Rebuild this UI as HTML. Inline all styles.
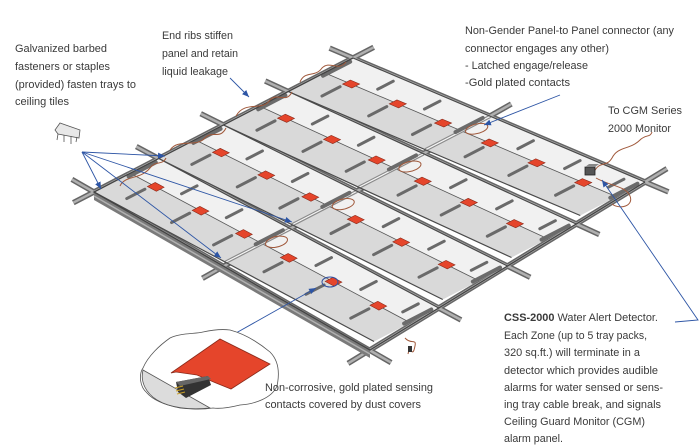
<!DOCTYPE html>
<html><head><meta charset="utf-8"><style>
html,body{margin:0;padding:0;background:#fff;}
svg{display:block;}
text{font-family:"Liberation Sans",Arial,sans-serif;font-size:11px;fill:#3a3a3a;}
</style></head><body>
<svg width="700" height="445" viewBox="0 0 700 445" xmlns="http://www.w3.org/2000/svg">
<defs>
<marker id="ah" markerWidth="8" markerHeight="8" refX="7" refY="4" orient="auto" markerUnits="userSpaceOnUse">
<path d="M0,1 L7,4 L0,7 z" fill="#2d55a5"/></marker>
<g id="strip">
<rect x="0" y="0" width="1000" height="44" fill="#f1f1f1"/>
<rect x="0" y="44" width="1000" height="56" fill="#d9d9d9"/>
<g stroke="#6a6a6a" stroke-width="3" stroke-linecap="round">
<line x1="160" y1="10" x2="160" y2="34" vector-effect="non-scaling-stroke"/>
<line x1="320" y1="10" x2="320" y2="34" vector-effect="non-scaling-stroke"/>
<line x1="640" y1="10" x2="640" y2="34" vector-effect="non-scaling-stroke"/>
<line x1="800" y1="10" x2="800" y2="34" vector-effect="non-scaling-stroke"/>
<line x1="950" y1="10" x2="950" y2="34" vector-effect="non-scaling-stroke"/>
<line x1="80" y1="56" x2="80" y2="84" vector-effect="non-scaling-stroke"/>
<line x1="240" y1="56" x2="240" y2="84" vector-effect="non-scaling-stroke"/>
<line x1="390" y1="56" x2="390" y2="84" vector-effect="non-scaling-stroke"/>
<line x1="570" y1="56" x2="570" y2="84" vector-effect="non-scaling-stroke"/>
<line x1="720" y1="56" x2="720" y2="84" vector-effect="non-scaling-stroke"/>
<line x1="880" y1="56" x2="880" y2="84" vector-effect="non-scaling-stroke"/>
</g>
<line x1="0" y1="44" x2="1000" y2="44" stroke="#555" stroke-width="0.8" vector-effect="non-scaling-stroke"/>
<g fill="#e5452b" stroke="#8a2a1a" stroke-width="0.6">
<rect x="75" y="38" width="32" height="12" vector-effect="non-scaling-stroke"/>
<rect x="235" y="38" width="32" height="12" vector-effect="non-scaling-stroke"/>
<rect x="390" y="38" width="32" height="12" vector-effect="non-scaling-stroke"/>
<rect x="550" y="38" width="32" height="12" vector-effect="non-scaling-stroke"/>
<rect x="710" y="38" width="32" height="12" vector-effect="non-scaling-stroke"/>
<rect x="870" y="38" width="32" height="12" vector-effect="non-scaling-stroke"/>
</g>
<line x1="470" y1="0" x2="470" y2="100" stroke="#8a8a8a" stroke-width="3.5" vector-effect="non-scaling-stroke"/>
<line x1="470" y1="0" x2="470" y2="100" stroke="#f6f6f6" stroke-width="1.2" vector-effect="non-scaling-stroke"/>
<g stroke="#6b6b6b" stroke-width="4" stroke-linecap="round">
<line x1="462" y1="8" x2="462" y2="50" vector-effect="non-scaling-stroke"/>
<line x1="8" y1="8" x2="8" y2="50" vector-effect="non-scaling-stroke"/>
<line x1="992" y1="8" x2="992" y2="50" vector-effect="non-scaling-stroke"/>
</g>
<ellipse cx="490" cy="30" rx="22" ry="14" fill="none" stroke="#a0583a" stroke-width="1" vector-effect="non-scaling-stroke"/>
<line x1="0" y1="0" x2="1000" y2="0" stroke="#4a4a4a" stroke-width="1.2" vector-effect="non-scaling-stroke"/>
<line x1="0" y1="100" x2="1000" y2="100" stroke="#4a4a4a" stroke-width="1.2" vector-effect="non-scaling-stroke"/>
</g>
</defs>

<g stroke-linecap="butt">
<g stroke="#666" stroke-width="5.5">
<line x1="329.6" y1="48.1" x2="668.4" y2="191.9"/>
<line x1="265.2" y1="81" x2="599.3" y2="234.5"/>
<line x1="200.7" y1="113.7" x2="530.2" y2="277.3"/>
<line x1="136.3" y1="146.6" x2="461" y2="319.9"/>
<line x1="71.9" y1="179.4" x2="391.1" y2="362.6"/>
<line x1="373.7" y1="47.3" x2="73.3" y2="202.7"/>
<line x1="511.3" y1="104" x2="202.4" y2="278.3"/>
<line x1="667" y1="168.6" x2="348" y2="363.4"/>
</g>
<g stroke="#b0b0b0" stroke-width="2.5">
<line x1="329.6" y1="48.1" x2="668.4" y2="191.9"/>
<line x1="265.2" y1="81" x2="599.3" y2="234.5"/>
<line x1="200.7" y1="113.7" x2="530.2" y2="277.3"/>
<line x1="136.3" y1="146.6" x2="461" y2="319.9"/>
<line x1="71.9" y1="179.4" x2="391.1" y2="362.6"/>
<line x1="373.7" y1="47.3" x2="73.3" y2="202.7"/>
<line x1="511.3" y1="104" x2="202.4" y2="278.3"/>
<line x1="667" y1="168.6" x2="348" y2="363.4"/>
</g>
</g>

<polygon points="94,192 370,350 370,358 94,200" fill="#7a7a7a"/>
<line x1="94" y1="196" x2="370" y2="354" stroke="#b0b0b0" stroke-width="1.5"/>

<use href="#strip" transform="matrix(.292,.124,-.6475,.335,353,58)"/>
<use href="#strip" transform="matrix(.288,.1325,-.6475,.335,288.25,91.5)"/>
<use href="#strip" transform="matrix(.284,.141,-.6475,.335,223.5,125)"/>
<use href="#strip" transform="matrix(.280,.1495,-.6475,.335,158.75,158.5)"/>

<polyline points="353,58 94,192 370,350 645,182" fill="none" stroke="#444" stroke-width="1.3"/>

<g fill="none" stroke="#a0583a" stroke-width="1">
<path d="M300,82 C305,70 315,78 322,68 C330,60 338,72 346,62"/>
<path d="M236,116 C245,100 262,112 270,100 C278,92 286,104 292,92"/>
<path d="M170,150 C178,138 196,148 205,138 C212,130 220,140 226,128"/>
<path d="M120,186 C125,175 140,180 150,168 C156,160 162,166 166,158"/>
<path d="M405,338 C412,346 418,336 414,350 C412,356 410,345 408,354"/>
</g>
<path d="M594,172 C600,160 606,168 612,158 C618,146 630,150 640,140 C646,134 650,138 652,132" fill="none" stroke="#a0583a" stroke-width="1"/>
<path d="M596,178 C610,186 626,186 630,196 C634,206 620,210 612,204" fill="none" stroke="#a0583a" stroke-width="1"/>
<rect x="585" y="167" width="10" height="8" fill="#555" stroke="#222" stroke-width="0.8"/>
<polygon points="585,167 589,164 599,164 595,167" fill="#888"/>
<rect x="408" y="346" width="4" height="6" fill="#333"/>

<ellipse cx="330" cy="282" rx="8" ry="5" fill="none" stroke="#3050a0" stroke-width="1"/>

<g stroke="#2d55a5" stroke-width="0.9" fill="none">
<line x1="82" y1="152" x2="165" y2="156" marker-end="url(#ah)"/>
<line x1="82" y1="152" x2="101" y2="189" marker-end="url(#ah)"/>
<line x1="82" y1="152" x2="292" y2="222" marker-end="url(#ah)"/>
<line x1="82" y1="152" x2="221" y2="258" marker-end="url(#ah)"/>
<line x1="230" y1="78" x2="249" y2="97" marker-end="url(#ah)"/>
<line x1="560" y1="95" x2="484" y2="125" marker-end="url(#ah)"/>
<polyline points="675,322 698,320 602,180" marker-end="url(#ah)"/>
<line x1="236" y1="333" x2="316" y2="288" marker-end="url(#ah)"/>
</g>

<g stroke="#555" stroke-width="0.8" fill="#e8e8e8">
<polygon points="55,130 60,123 80,130 79,138 58,134"/>
<path d="M58,134 L57,140 M64,135 L64,142 M71,136 L71,144 M77,137 L76,142" fill="none"/>
</g>

<path d="M147,393 C138,385 140,372 143,368 C148,356 160,345 170,338 C180,333 195,334 203,332 C212,330 222,329 230,330 C245,334 258,342 270,352 C278,360 280,372 277,386 C272,398 255,404 240,405 C228,408 220,409 213,408 C200,410 190,409 180,408 C165,405 153,400 147,393 z" fill="#fff" stroke="#555" stroke-width="0.8"/>
<path d="M143,370 L210,408 C190,410 170,408 157,400 C146,393 140,382 143,370 z" fill="#dcdcdc" stroke="#555" stroke-width="0.8"/>
<polygon points="171,373 220,339 270,364 231,389 216,383 197,375 176,372" fill="#e5452b" stroke="#8a2a1a" stroke-width="0.8"/>
<polygon points="176,382 208,376 211,385 186,398 178,392" fill="#333"/>
<polygon points="176,382 208,376 211,379 180,386" fill="#666"/>
<g stroke="#c9a02a" stroke-width="1"><line x1="175" y1="388" x2="183" y2="386"/><line x1="176" y1="391" x2="184" y2="389"/><line x1="177" y1="394" x2="185" y2="392"/></g>

<text x="15" y="52" textLength="92" lengthAdjust="spacingAndGlyphs">Galvanized barbed</text>
<text x="15" y="70" textLength="95" lengthAdjust="spacingAndGlyphs">fasteners or staples</text>
<text x="15" y="88" textLength="121" lengthAdjust="spacingAndGlyphs">(provided) fasten trays to</text>
<text x="15" y="105" textLength="54" lengthAdjust="spacingAndGlyphs">ceiling tiles</text>

<text x="162" y="39" textLength="71" lengthAdjust="spacingAndGlyphs">End ribs stiffen</text>
<text x="162" y="57" textLength="76" lengthAdjust="spacingAndGlyphs">panel and retain</text>
<text x="162" y="75" textLength="66" lengthAdjust="spacingAndGlyphs">liquid leakage</text>

<text x="465" y="34" textLength="209" lengthAdjust="spacingAndGlyphs">Non-Gender Panel-to Panel connector (any</text>
<text x="465" y="52" textLength="144" lengthAdjust="spacingAndGlyphs">connector engages any other)</text>
<text x="465" y="69" textLength="123" lengthAdjust="spacingAndGlyphs">- Latched engage/release</text>
<text x="465" y="86" textLength="105" lengthAdjust="spacingAndGlyphs">-Gold plated contacts</text>

<text x="608" y="114" textLength="74" lengthAdjust="spacingAndGlyphs">To CGM Series</text>
<text x="608" y="132" textLength="63" lengthAdjust="spacingAndGlyphs">2000 Monitor</text>

<text x="504" y="321" textLength="154" lengthAdjust="spacingAndGlyphs"><tspan font-weight="bold">CSS-2000</tspan> Water Alert Detector.</text>
<text x="504" y="339" textLength="143" lengthAdjust="spacingAndGlyphs">Each Zone (up to 5 tray packs,</text>
<text x="504" y="356" textLength="136" lengthAdjust="spacingAndGlyphs">320 sq.ft.) will terminate in a</text>
<text x="504" y="374" textLength="154" lengthAdjust="spacingAndGlyphs">detector which provides audible</text>
<text x="504" y="391" textLength="159" lengthAdjust="spacingAndGlyphs">alarms for water sensed or sens-</text>
<text x="504" y="408" textLength="157" lengthAdjust="spacingAndGlyphs">ing tray cable break, and signals</text>
<text x="504" y="425" textLength="141" lengthAdjust="spacingAndGlyphs">Ceiling Guard Monitor (CGM)</text>
<text x="504" y="442" textLength="59" lengthAdjust="spacingAndGlyphs">alarm panel.</text>

<text x="265" y="391" textLength="168" lengthAdjust="spacingAndGlyphs">Non-corrosive, gold plated sensing</text>
<text x="265" y="408" textLength="156" lengthAdjust="spacingAndGlyphs">contacts covered by dust covers</text>
</svg>
</body></html>
